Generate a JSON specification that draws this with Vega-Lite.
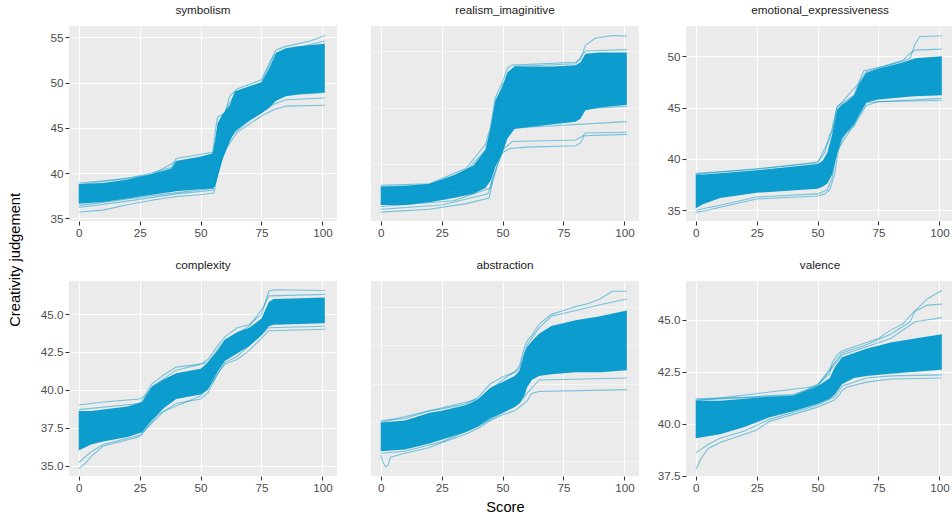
{
"$schema": "https://vega.github.io/schema/vega-lite/v6.json",
"background": "white",
"padding": {"left": 8, "top": 5, "right": 0, "bottom": 0},
"title": {"text": "Creativity judgement", "orient": "left", "anchor": "middle", "frame": "bounds", "fontSize": 14.7, "fontWeight": "normal", "font": "Liberation Sans", "color": "#000000", "offset": -7, "baseline": "bottom"},
"datasets": {
"band": [
{"p":"sym","x":0,"lo":36.6,"hi":38.8},{"p":"sym","x":10,"lo":36.8,"hi":38.9},{"p":"sym","x":20,"lo":37.2,"hi":39.3},{"p":"sym","x":30,"lo":37.6,"hi":39.9},{"p":"sym","x":38,"lo":37.9,"hi":40.5},{"p":"sym","x":40,"lo":38.0,"hi":41.3},{"p":"sym","x":50,"lo":38.2,"hi":41.8},{"p":"sym","x":55,"lo":38.3,"hi":42.2},{"p":"sym","x":56,"lo":38.6,"hi":43.5},{"p":"sym","x":57,"lo":39.5,"hi":45.5},{"p":"sym","x":59,"lo":41.5,"hi":46.5},{"p":"sym","x":62,"lo":43.5,"hi":47.5},{"p":"sym","x":64,"lo":44.6,"hi":49.0},{"p":"sym","x":70,"lo":45.8,"hi":49.6},{"p":"sym","x":75,"lo":46.6,"hi":50.0},{"p":"sym","x":78,"lo":47.2,"hi":51.5},{"p":"sym","x":81,"lo":48.0,"hi":53.3},{"p":"sym","x":85,"lo":48.5,"hi":53.8},{"p":"sym","x":90,"lo":48.7,"hi":54.0},{"p":"sym","x":101,"lo":48.9,"hi":54.3},
{"p":"rea","x":0,"lo":39.1,"hi":40.4},{"p":"rea","x":10,"lo":39.1,"hi":40.45},{"p":"rea","x":20,"lo":39.3,"hi":40.6},{"p":"rea","x":30,"lo":39.6,"hi":41.2},{"p":"rea","x":38,"lo":39.9,"hi":41.9},{"p":"rea","x":43,"lo":40.3,"hi":43.0},{"p":"rea","x":45,"lo":40.8,"hi":44.5},{"p":"rea","x":47,"lo":41.8,"hi":46.5},{"p":"rea","x":50,"lo":42.8,"hi":47.5},{"p":"rea","x":52,"lo":43.8,"hi":48.5},{"p":"rea","x":55,"lo":44.5,"hi":48.9},{"p":"rea","x":70,"lo":44.8,"hi":48.9},{"p":"rea","x":80,"lo":45.0,"hi":49.0},{"p":"rea","x":82,"lo":45.2,"hi":49.2},{"p":"rea","x":84,"lo":45.8,"hi":49.8},{"p":"rea","x":90,"lo":46.0,"hi":49.9},{"p":"rea","x":101,"lo":46.2,"hi":49.9},
{"p":"emo","x":0,"lo":35.2,"hi":38.5},{"p":"emo","x":3,"lo":35.6,"hi":38.5},{"p":"emo","x":10,"lo":36.2,"hi":38.6},{"p":"emo","x":25,"lo":36.7,"hi":38.9},{"p":"emo","x":50,"lo":37.1,"hi":39.5},{"p":"emo","x":52,"lo":37.3,"hi":39.8},{"p":"emo","x":54,"lo":37.6,"hi":40.6},{"p":"emo","x":56,"lo":38.5,"hi":42.4},{"p":"emo","x":58,"lo":40.5,"hi":44.8},{"p":"emo","x":60,"lo":42.0,"hi":45.3},{"p":"emo","x":62,"lo":42.6,"hi":45.6},{"p":"emo","x":65,"lo":43.4,"hi":46.2},{"p":"emo","x":67,"lo":44.3,"hi":47.3},{"p":"emo","x":70,"lo":45.5,"hi":48.4},{"p":"emo","x":75,"lo":45.8,"hi":48.8},{"p":"emo","x":85,"lo":46.0,"hi":49.4},{"p":"emo","x":90,"lo":46.1,"hi":49.8},{"p":"emo","x":101,"lo":46.2,"hi":50.0},
{"p":"com","x":0,"lo":36.0,"hi":38.6},{"p":"com","x":5,"lo":36.4,"hi":38.6},{"p":"com","x":10,"lo":36.6,"hi":38.7},{"p":"com","x":20,"lo":36.9,"hi":38.9},{"p":"com","x":26,"lo":37.2,"hi":39.2},{"p":"com","x":30,"lo":38.0,"hi":40.2},{"p":"com","x":35,"lo":38.8,"hi":40.7},{"p":"com","x":40,"lo":39.4,"hi":41.1},{"p":"com","x":50,"lo":39.7,"hi":41.4},{"p":"com","x":53,"lo":40.0,"hi":41.8},{"p":"com","x":57,"lo":41.2,"hi":42.6},{"p":"com","x":60,"lo":41.9,"hi":43.3},{"p":"com","x":65,"lo":42.4,"hi":43.8},{"p":"com","x":70,"lo":42.9,"hi":44.1},{"p":"com","x":75,"lo":43.6,"hi":44.7},{"p":"com","x":78,"lo":44.2,"hi":45.8},{"p":"com","x":80,"lo":44.3,"hi":46.0},{"p":"com","x":101,"lo":44.4,"hi":46.1},
{"p":"abs","x":0,"lo":39.5,"hi":41.0},{"p":"abs","x":10,"lo":39.6,"hi":41.1},{"p":"abs","x":20,"lo":39.9,"hi":41.5},{"p":"abs","x":25,"lo":40.1,"hi":41.6},{"p":"abs","x":35,"lo":40.5,"hi":41.9},{"p":"abs","x":40,"lo":40.8,"hi":42.2},{"p":"abs","x":45,"lo":41.2,"hi":42.8},{"p":"abs","x":50,"lo":41.5,"hi":43.1},{"p":"abs","x":55,"lo":41.8,"hi":43.4},{"p":"abs","x":57,"lo":42.0,"hi":43.7},{"p":"abs","x":59,"lo":42.4,"hi":44.6},{"p":"abs","x":60,"lo":42.8,"hi":44.9},{"p":"abs","x":62,"lo":43.2,"hi":45.2},{"p":"abs","x":65,"lo":43.4,"hi":45.6},{"p":"abs","x":70,"lo":43.5,"hi":46.0},{"p":"abs","x":80,"lo":43.6,"hi":46.3},{"p":"abs","x":90,"lo":43.6,"hi":46.5},{"p":"abs","x":101,"lo":43.7,"hi":46.8},
{"p":"val","x":0,"lo":39.3,"hi":41.1},{"p":"val","x":10,"lo":39.5,"hi":41.1},{"p":"val","x":20,"lo":39.85,"hi":41.2},{"p":"val","x":30,"lo":40.3,"hi":41.3},{"p":"val","x":40,"lo":40.6,"hi":41.35},{"p":"val","x":50,"lo":40.95,"hi":41.8},{"p":"val","x":55,"lo":41.2,"hi":42.2},{"p":"val","x":57,"lo":41.4,"hi":42.7},{"p":"val","x":60,"lo":41.9,"hi":43.2},{"p":"val","x":65,"lo":42.2,"hi":43.4},{"p":"val","x":70,"lo":42.3,"hi":43.6},{"p":"val","x":80,"lo":42.4,"hi":43.9},{"p":"val","x":90,"lo":42.5,"hi":44.1},{"p":"val","x":101,"lo":42.6,"hi":44.3}
],
"lines": [
{"p":"sym","id":1,"x":0,"y":35.7},{"p":"sym","id":1,"x":10,"y":35.9},{"p":"sym","id":1,"x":20,"y":36.5},{"p":"sym","id":1,"x":30,"y":37.0},{"p":"sym","id":1,"x":40,"y":37.4},{"p":"sym","id":1,"x":50,"y":37.6},{"p":"sym","id":1,"x":55.5,"y":37.8},{"p":"sym","id":1,"x":57,"y":40.0},{"p":"sym","id":1,"x":60,"y":42.5},{"p":"sym","id":1,"x":63,"y":43.7},{"p":"sym","id":1,"x":65,"y":44.5},{"p":"sym","id":1,"x":75,"y":46.3},{"p":"sym","id":1,"x":80,"y":47.0},{"p":"sym","id":1,"x":85,"y":47.4},{"p":"sym","id":1,"x":101,"y":47.5},
{"p":"sym","id":2,"x":0,"y":36.2},{"p":"sym","id":2,"x":20,"y":36.9},{"p":"sym","id":2,"x":40,"y":37.7},{"p":"sym","id":2,"x":55,"y":38.1},{"p":"sym","id":2,"x":57,"y":40.5},{"p":"sym","id":2,"x":62,"y":44.0},{"p":"sym","id":2,"x":70,"y":45.8},{"p":"sym","id":2,"x":80,"y":47.6},{"p":"sym","id":2,"x":85,"y":48.1},{"p":"sym","id":2,"x":101,"y":48.3},
{"p":"sym","id":3,"x":0,"y":36.4},{"p":"sym","id":3,"x":30,"y":37.5},{"p":"sym","id":3,"x":55,"y":38.3},{"p":"sym","id":3,"x":58,"y":42.0},{"p":"sym","id":3,"x":65,"y":45.0},{"p":"sym","id":3,"x":80,"y":48.2},{"p":"sym","id":3,"x":85,"y":48.6},{"p":"sym","id":3,"x":101,"y":48.9},
{"p":"sym","id":4,"x":0,"y":38.9},{"p":"sym","id":4,"x":20,"y":39.4},{"p":"sym","id":4,"x":30,"y":40.0},{"p":"sym","id":4,"x":38,"y":40.6},{"p":"sym","id":4,"x":40,"y":41.6},{"p":"sym","id":4,"x":55,"y":42.3},{"p":"sym","id":4,"x":56.5,"y":45.5},{"p":"sym","id":4,"x":57,"y":46.2},{"p":"sym","id":4,"x":60,"y":46.6},{"p":"sym","id":4,"x":62,"y":48.5},{"p":"sym","id":4,"x":65,"y":49.3},{"p":"sym","id":4,"x":75,"y":50.3},{"p":"sym","id":4,"x":78,"y":52.0},{"p":"sym","id":4,"x":81,"y":53.6},{"p":"sym","id":4,"x":85,"y":54.0},{"p":"sym","id":4,"x":95,"y":54.6},{"p":"sym","id":4,"x":101,"y":55.2},
{"p":"sym","id":5,"x":0,"y":38.7},{"p":"sym","id":5,"x":30,"y":39.8},{"p":"sym","id":5,"x":40,"y":41.3},{"p":"sym","id":5,"x":55,"y":42.0},{"p":"sym","id":5,"x":57,"y":45.0},{"p":"sym","id":5,"x":62,"y":47.8},{"p":"sym","id":5,"x":65,"y":49.0},{"p":"sym","id":5,"x":75,"y":50.0},{"p":"sym","id":5,"x":80,"y":53.0},{"p":"sym","id":5,"x":85,"y":53.5},{"p":"sym","id":5,"x":101,"y":54.6},
{"p":"rea","id":1,"x":0,"y":38.6},{"p":"rea","id":1,"x":20,"y":38.8},{"p":"rea","id":1,"x":35,"y":39.2},{"p":"rea","id":1,"x":44.5,"y":39.6},{"p":"rea","id":1,"x":46,"y":40.8},{"p":"rea","id":1,"x":48,"y":42.0},{"p":"rea","id":1,"x":50,"y":42.8},{"p":"rea","id":1,"x":53,"y":43.1},{"p":"rea","id":1,"x":60,"y":43.2},{"p":"rea","id":1,"x":80,"y":43.3},{"p":"rea","id":1,"x":82,"y":43.5},{"p":"rea","id":1,"x":83.5,"y":44.0},{"p":"rea","id":1,"x":101,"y":44.1},
{"p":"rea","id":2,"x":0,"y":38.8},{"p":"rea","id":2,"x":25,"y":39.1},{"p":"rea","id":2,"x":44,"y":39.9},{"p":"rea","id":2,"x":47,"y":41.5},{"p":"rea","id":2,"x":50,"y":43.0},{"p":"rea","id":2,"x":54,"y":43.6},{"p":"rea","id":2,"x":80,"y":43.7},{"p":"rea","id":2,"x":83,"y":44.0},{"p":"rea","id":2,"x":84,"y":44.2},{"p":"rea","id":2,"x":101,"y":44.25},
{"p":"rea","id":3,"x":0,"y":39.0},{"p":"rea","id":3,"x":30,"y":39.4},{"p":"rea","id":3,"x":45,"y":40.3},{"p":"rea","id":3,"x":48,"y":43.0},{"p":"rea","id":3,"x":52,"y":44.5},{"p":"rea","id":3,"x":60,"y":44.6},{"p":"rea","id":3,"x":101,"y":45.0},
{"p":"rea","id":4,"x":0,"y":39.2},{"p":"rea","id":4,"x":45,"y":40.9},{"p":"rea","id":4,"x":50,"y":44.0},{"p":"rea","id":4,"x":55,"y":45.3},{"p":"rea","id":4,"x":80,"y":45.5},{"p":"rea","id":4,"x":83,"y":45.9},{"p":"rea","id":4,"x":101,"y":46.1},
{"p":"rea","id":5,"x":0,"y":40.5},{"p":"rea","id":5,"x":20,"y":40.6},{"p":"rea","id":5,"x":35,"y":41.7},{"p":"rea","id":5,"x":43,"y":43.4},{"p":"rea","id":5,"x":45,"y":44.6},{"p":"rea","id":5,"x":47,"y":46.7},{"p":"rea","id":5,"x":50,"y":47.8},{"p":"rea","id":5,"x":52,"y":48.8},{"p":"rea","id":5,"x":54,"y":49.0},{"p":"rea","id":5,"x":80,"y":49.2},{"p":"rea","id":5,"x":82,"y":49.4},{"p":"rea","id":5,"x":84,"y":50.4},{"p":"rea","id":5,"x":88,"y":50.9},{"p":"rea","id":5,"x":95,"y":51.1},{"p":"rea","id":5,"x":101,"y":51.05},
{"p":"rea","id":6,"x":0,"y":40.4},{"p":"rea","id":6,"x":20,"y":40.5},{"p":"rea","id":6,"x":35,"y":41.5},{"p":"rea","id":6,"x":43,"y":43.0},{"p":"rea","id":6,"x":45,"y":44.3},{"p":"rea","id":6,"x":50,"y":47.6},{"p":"rea","id":6,"x":55,"y":48.9},{"p":"rea","id":6,"x":80,"y":49.1},{"p":"rea","id":6,"x":84,"y":50.0},{"p":"rea","id":6,"x":101,"y":50.1},
{"p":"emo","id":1,"x":0,"y":34.8},{"p":"emo","id":1,"x":5,"y":35.0},{"p":"emo","id":1,"x":10,"y":35.3},{"p":"emo","id":1,"x":25,"y":36.1},{"p":"emo","id":1,"x":50,"y":36.4},{"p":"emo","id":1,"x":53,"y":36.6},{"p":"emo","id":1,"x":55,"y":37.0},{"p":"emo","id":1,"x":57,"y":38.5},{"p":"emo","id":1,"x":58.5,"y":40.8},{"p":"emo","id":1,"x":60,"y":41.9},{"p":"emo","id":1,"x":62,"y":42.6},{"p":"emo","id":1,"x":65,"y":43.2},{"p":"emo","id":1,"x":67,"y":44.1},{"p":"emo","id":1,"x":70,"y":45.2},{"p":"emo","id":1,"x":75,"y":45.6},{"p":"emo","id":1,"x":101,"y":45.7},
{"p":"emo","id":2,"x":0,"y":35.0},{"p":"emo","id":2,"x":10,"y":35.5},{"p":"emo","id":2,"x":25,"y":36.3},{"p":"emo","id":2,"x":50,"y":36.6},{"p":"emo","id":2,"x":54,"y":37.0},{"p":"emo","id":2,"x":56,"y":38.2},{"p":"emo","id":2,"x":58,"y":40.8},{"p":"emo","id":2,"x":65,"y":43.4},{"p":"emo","id":2,"x":70,"y":45.5},{"p":"emo","id":2,"x":101,"y":45.9},
{"p":"emo","id":3,"x":0,"y":38.6},{"p":"emo","id":3,"x":25,"y":39.0},{"p":"emo","id":3,"x":50,"y":39.7},{"p":"emo","id":3,"x":53,"y":40.6},{"p":"emo","id":3,"x":55,"y":42.4},{"p":"emo","id":3,"x":56,"y":42.6},{"p":"emo","id":3,"x":58,"y":45.1},{"p":"emo","id":3,"x":65,"y":46.2},{"p":"emo","id":3,"x":67,"y":47.5},{"p":"emo","id":3,"x":69,"y":48.6},{"p":"emo","id":3,"x":75,"y":48.9},{"p":"emo","id":3,"x":85,"y":49.5},{"p":"emo","id":3,"x":88,"y":49.8},{"p":"emo","id":3,"x":90,"y":51.2},{"p":"emo","id":3,"x":92,"y":51.9},{"p":"emo","id":3,"x":101,"y":52.0},
{"p":"emo","id":4,"x":0,"y":38.5},{"p":"emo","id":4,"x":50,"y":39.6},{"p":"emo","id":4,"x":55,"y":42.0},{"p":"emo","id":4,"x":58,"y":45.0},{"p":"emo","id":4,"x":67,"y":47.4},{"p":"emo","id":4,"x":70,"y":48.5},{"p":"emo","id":4,"x":85,"y":49.6},{"p":"emo","id":4,"x":88,"y":50.3},{"p":"emo","id":4,"x":90,"y":50.6},{"p":"emo","id":4,"x":101,"y":50.7},
{"p":"com","id":1,"x":0,"y":34.8},{"p":"com","id":1,"x":3,"y":35.2},{"p":"com","id":1,"x":5,"y":35.6},{"p":"com","id":1,"x":10,"y":36.3},{"p":"com","id":1,"x":25,"y":36.9},{"p":"com","id":1,"x":28,"y":37.5},{"p":"com","id":1,"x":32,"y":38.3},{"p":"com","id":1,"x":40,"y":39.1},{"p":"com","id":1,"x":50,"y":39.4},{"p":"com","id":1,"x":53,"y":39.8},{"p":"com","id":1,"x":57,"y":41.1},{"p":"com","id":1,"x":60,"y":41.7},{"p":"com","id":1,"x":65,"y":42.0},{"p":"com","id":1,"x":70,"y":42.6},{"p":"com","id":1,"x":75,"y":43.4},{"p":"com","id":1,"x":78,"y":43.9},{"p":"com","id":1,"x":101,"y":44.0},
{"p":"com","id":2,"x":0,"y":35.2},{"p":"com","id":2,"x":5,"y":35.9},{"p":"com","id":2,"x":10,"y":36.4},{"p":"com","id":2,"x":25,"y":37.0},{"p":"com","id":2,"x":30,"y":37.8},{"p":"com","id":2,"x":35,"y":38.6},{"p":"com","id":2,"x":50,"y":39.6},{"p":"com","id":2,"x":55,"y":40.5},{"p":"com","id":2,"x":60,"y":41.8},{"p":"com","id":2,"x":65,"y":42.2},{"p":"com","id":2,"x":78,"y":44.1},{"p":"com","id":2,"x":101,"y":44.2},
{"p":"com","id":3,"x":0,"y":39.0},{"p":"com","id":3,"x":10,"y":39.2},{"p":"com","id":3,"x":25,"y":39.4},{"p":"com","id":3,"x":27,"y":39.6},{"p":"com","id":3,"x":30,"y":40.4},{"p":"com","id":3,"x":35,"y":41.0},{"p":"com","id":3,"x":40,"y":41.5},{"p":"com","id":3,"x":50,"y":41.7},{"p":"com","id":3,"x":53,"y":42.0},{"p":"com","id":3,"x":57,"y":42.9},{"p":"com","id":3,"x":60,"y":43.5},{"p":"com","id":3,"x":65,"y":44.1},{"p":"com","id":3,"x":70,"y":44.3},{"p":"com","id":3,"x":75,"y":45.0},{"p":"com","id":3,"x":78,"y":46.5},{"p":"com","id":3,"x":80,"y":46.6},{"p":"com","id":3,"x":101,"y":46.55},
{"p":"com","id":4,"x":0,"y":38.7},{"p":"com","id":4,"x":25,"y":39.1},{"p":"com","id":4,"x":30,"y":40.2},{"p":"com","id":4,"x":40,"y":41.3},{"p":"com","id":4,"x":53,"y":41.8},{"p":"com","id":4,"x":60,"y":43.3},{"p":"com","id":4,"x":70,"y":44.2},{"p":"com","id":4,"x":76,"y":45.5},{"p":"com","id":4,"x":78,"y":46.2},{"p":"com","id":4,"x":101,"y":46.3},
{"p":"abs","id":1,"x":0,"y":39.3},{"p":"abs","id":1,"x":1,"y":38.9},{"p":"abs","id":1,"x":2,"y":38.7},{"p":"abs","id":1,"x":3,"y":38.8},{"p":"abs","id":1,"x":4,"y":39.2},{"p":"abs","id":1,"x":10,"y":39.4},{"p":"abs","id":1,"x":20,"y":39.7},{"p":"abs","id":1,"x":25,"y":39.95},{"p":"abs","id":1,"x":35,"y":40.4},{"p":"abs","id":1,"x":40,"y":40.7},{"p":"abs","id":1,"x":45,"y":41.1},{"p":"abs","id":1,"x":50,"y":41.4},{"p":"abs","id":1,"x":55,"y":41.6},{"p":"abs","id":1,"x":57,"y":41.8},{"p":"abs","id":1,"x":60,"y":42.1},{"p":"abs","id":1,"x":62,"y":42.5},{"p":"abs","id":1,"x":65,"y":42.6},{"p":"abs","id":1,"x":101,"y":42.7},
{"p":"abs","id":2,"x":0,"y":39.4},{"p":"abs","id":2,"x":10,"y":39.5},{"p":"abs","id":2,"x":25,"y":40.0},{"p":"abs","id":2,"x":40,"y":40.8},{"p":"abs","id":2,"x":50,"y":41.5},{"p":"abs","id":2,"x":57,"y":42.0},{"p":"abs","id":2,"x":60,"y":42.5},{"p":"abs","id":2,"x":65,"y":43.2},{"p":"abs","id":2,"x":101,"y":43.3},
{"p":"abs","id":3,"x":0,"y":41.1},{"p":"abs","id":3,"x":10,"y":41.2},{"p":"abs","id":3,"x":20,"y":41.6},{"p":"abs","id":3,"x":25,"y":41.7},{"p":"abs","id":3,"x":35,"y":41.95},{"p":"abs","id":3,"x":40,"y":42.3},{"p":"abs","id":3,"x":45,"y":43.0},{"p":"abs","id":3,"x":50,"y":43.35},{"p":"abs","id":3,"x":55,"y":43.6},{"p":"abs","id":3,"x":57,"y":43.95},{"p":"abs","id":3,"x":59,"y":44.9},{"p":"abs","id":3,"x":60,"y":45.2},{"p":"abs","id":3,"x":62,"y":45.5},{"p":"abs","id":3,"x":65,"y":46.1},{"p":"abs","id":3,"x":70,"y":46.6},{"p":"abs","id":3,"x":75,"y":46.8},{"p":"abs","id":3,"x":80,"y":47.0},{"p":"abs","id":3,"x":85,"y":47.15},{"p":"abs","id":3,"x":90,"y":47.4},{"p":"abs","id":3,"x":95,"y":47.8},{"p":"abs","id":3,"x":101,"y":47.8},
{"p":"abs","id":4,"x":0,"y":41.0},{"p":"abs","id":4,"x":40,"y":42.2},{"p":"abs","id":4,"x":50,"y":43.2},{"p":"abs","id":4,"x":57,"y":43.8},{"p":"abs","id":4,"x":60,"y":45.0},{"p":"abs","id":4,"x":65,"y":45.9},{"p":"abs","id":4,"x":70,"y":46.5},{"p":"abs","id":4,"x":80,"y":46.8},{"p":"abs","id":4,"x":90,"y":47.1},{"p":"abs","id":4,"x":101,"y":47.4},
{"p":"val","id":1,"x":0,"y":37.8},{"p":"val","id":1,"x":1,"y":38.0},{"p":"val","id":1,"x":2,"y":38.3},{"p":"val","id":1,"x":5,"y":38.8},{"p":"val","id":1,"x":10,"y":39.1},{"p":"val","id":1,"x":20,"y":39.5},{"p":"val","id":1,"x":25,"y":39.7},{"p":"val","id":1,"x":30,"y":40.1},{"p":"val","id":1,"x":40,"y":40.45},{"p":"val","id":1,"x":50,"y":40.8},{"p":"val","id":1,"x":55,"y":41.05},{"p":"val","id":1,"x":57,"y":41.15},{"p":"val","id":1,"x":59,"y":41.4},{"p":"val","id":1,"x":60,"y":41.6},{"p":"val","id":1,"x":62,"y":41.75},{"p":"val","id":1,"x":65,"y":41.85},{"p":"val","id":1,"x":70,"y":42.0},{"p":"val","id":1,"x":80,"y":42.15},{"p":"val","id":1,"x":101,"y":42.2},
{"p":"val","id":2,"x":0,"y":38.6},{"p":"val","id":2,"x":5,"y":39.0},{"p":"val","id":2,"x":10,"y":39.3},{"p":"val","id":2,"x":20,"y":39.65},{"p":"val","id":2,"x":30,"y":40.2},{"p":"val","id":2,"x":50,"y":40.9},{"p":"val","id":2,"x":57,"y":41.3},{"p":"val","id":2,"x":60,"y":41.8},{"p":"val","id":2,"x":70,"y":42.2},{"p":"val","id":2,"x":80,"y":42.3},{"p":"val","id":2,"x":101,"y":42.35},
{"p":"val","id":3,"x":0,"y":41.2},{"p":"val","id":3,"x":20,"y":41.27},{"p":"val","id":3,"x":30,"y":41.35},{"p":"val","id":3,"x":40,"y":41.4},{"p":"val","id":3,"x":45,"y":41.6},{"p":"val","id":3,"x":50,"y":41.9},{"p":"val","id":3,"x":55,"y":42.4},{"p":"val","id":3,"x":56,"y":42.95},{"p":"val","id":3,"x":58,"y":43.3},{"p":"val","id":3,"x":60,"y":43.5},{"p":"val","id":3,"x":65,"y":43.7},{"p":"val","id":3,"x":70,"y":43.9},{"p":"val","id":3,"x":75,"y":44.1},{"p":"val","id":3,"x":80,"y":44.5},{"p":"val","id":3,"x":85,"y":44.8},{"p":"val","id":3,"x":88,"y":45.2},{"p":"val","id":3,"x":95,"y":46.0},{"p":"val","id":3,"x":101,"y":46.4},
{"p":"val","id":4,"x":0,"y":41.15},{"p":"val","id":4,"x":40,"y":41.35},{"p":"val","id":4,"x":50,"y":41.85},{"p":"val","id":4,"x":56,"y":42.8},{"p":"val","id":4,"x":60,"y":43.4},{"p":"val","id":4,"x":70,"y":43.8},{"p":"val","id":4,"x":80,"y":44.3},{"p":"val","id":4,"x":88,"y":44.9},{"p":"val","id":4,"x":90,"y":45.4},{"p":"val","id":4,"x":95,"y":45.7},{"p":"val","id":4,"x":101,"y":45.75},
{"p":"val","id":5,"x":0,"y":41.1},{"p":"val","id":5,"x":50,"y":41.8},{"p":"val","id":5,"x":60,"y":43.3},{"p":"val","id":5,"x":80,"y":44.1},{"p":"val","id":5,"x":90,"y":44.9},{"p":"val","id":5,"x":101,"y":45.1}
]
},
"columns": 3,
"align": "each",
"bounds": "full",
"spacing": {"column": 10, "row": 21},
"concat": [
{"width": 268, "height": 195, "title": {"text": "symbolism"},
 "layer": [
  {"data": {"name": "band"}, "transform": [{"filter": "datum.p === 'sym'"}], "mark": {"type": "area", "color": "#0099CC", "opacity": 0.95, "clip": true},
   "encoding": {"x": {"field": "x", "type": "quantitative", "title": null, "scale": {"domain": [-4, 106], "nice": false, "zero": false}, "axis": {"values": [0,12.5,25,37.5,50,62.5,75,87.5,100], "labelExpr": "datum.value % 25 === 0 ? datum.label : ''", "gridWidth": {"condition": {"test": "datum.value % 25 === 0", "value": 1.1}, "value": 0.55}, "tickColor": {"condition": {"test": "datum.value % 25 === 0", "value": "#333333"}, "value": "rgba(0,0,0,0)"}}},
    "y": {"field": "lo", "type": "quantitative", "title": null, "scale": {"domain": [34.7, 56.25], "nice": false, "zero": false}, "axis": {"values": [35,37.5,40,42.5,45,47.5,50,52.5,55], "labelExpr": "datum.value % 5 === 0 ? datum.label : ''", "gridWidth": {"condition": {"test": "datum.value % 5 === 0", "value": 1.1}, "value": 0.55}, "tickColor": {"condition": {"test": "datum.value % 5 === 0", "value": "#333333"}, "value": "rgba(0,0,0,0)"}, "minExtent": 38, "maxExtent": 38}},
    "y2": {"field": "hi"}}},
  {"data": {"name": "lines"}, "transform": [{"filter": "datum.p === 'sym'"}], "mark": {"type": "line", "color": "#0099CC", "opacity": 0.5, "strokeWidth": 1.1, "clip": true},
   "encoding": {"x": {"field": "x", "type": "quantitative", "title": null}, "y": {"field": "y", "type": "quantitative", "title": null}, "detail": {"field": "id", "type": "nominal"}}}
 ]},
{"width": 268, "height": 195, "title": {"text": "realism_imaginitive"},
 "layer": [
  {"data": {"name": "band"}, "transform": [{"filter": "datum.p === 'rea'"}], "mark": {"type": "area", "color": "#0099CC", "opacity": 0.95, "clip": true},
   "encoding": {"x": {"field": "x", "type": "quantitative", "title": null, "scale": {"domain": [-4, 106], "nice": false, "zero": false}, "axis": {"values": [0,12.5,25,37.5,50,62.5,75,87.5,100], "labelExpr": "datum.value % 25 === 0 ? datum.label : ''", "gridWidth": {"condition": {"test": "datum.value % 25 === 0", "value": 1.1}, "value": 0.55}, "tickColor": {"condition": {"test": "datum.value % 25 === 0", "value": "#333333"}, "value": "rgba(0,0,0,0)"}}},
    "y": {"field": "lo", "type": "quantitative", "title": null, "scale": {"domain": [37.97, 51.77], "nice": false, "zero": false}, "axis": {"values": [38,40,42,44,46,48,50], "labelExpr": "datum.value % 4 === 0 ? datum.label : ''", "gridWidth": {"condition": {"test": "datum.value % 4 === 0", "value": 1.1}, "value": 0.55}, "tickColor": {"condition": {"test": "datum.value % 4 === 0", "value": "#333333"}, "value": "rgba(0,0,0,0)"}, "minExtent": 24, "maxExtent": 24}},
    "y2": {"field": "hi"}}},
  {"data": {"name": "lines"}, "transform": [{"filter": "datum.p === 'rea'"}], "mark": {"type": "line", "color": "#0099CC", "opacity": 0.5, "strokeWidth": 1.1, "clip": true},
   "encoding": {"x": {"field": "x", "type": "quantitative", "title": null}, "y": {"field": "y", "type": "quantitative", "title": null}, "detail": {"field": "id", "type": "nominal"}}}
 ]},
{"width": 268, "height": 195, "title": {"text": "emotional_expressiveness"},
 "layer": [
  {"data": {"name": "band"}, "transform": [{"filter": "datum.p === 'emo'"}], "mark": {"type": "area", "color": "#0099CC", "opacity": 0.95, "clip": true},
   "encoding": {"x": {"field": "x", "type": "quantitative", "title": null, "scale": {"domain": [-4, 106], "nice": false, "zero": false}, "axis": {"values": [0,12.5,25,37.5,50,62.5,75,87.5,100], "labelExpr": "datum.value % 25 === 0 ? datum.label : ''", "gridWidth": {"condition": {"test": "datum.value % 25 === 0", "value": 1.1}, "value": 0.55}, "tickColor": {"condition": {"test": "datum.value % 25 === 0", "value": "#333333"}, "value": "rgba(0,0,0,0)"}}},
    "y": {"field": "lo", "type": "quantitative", "title": null, "scale": {"domain": [33.96, 52.95], "nice": false, "zero": false}, "axis": {"values": [35,37.5,40,42.5,45,47.5,50,52.5], "labelExpr": "datum.value % 5 === 0 ? datum.label : ''", "gridWidth": {"condition": {"test": "datum.value % 5 === 0", "value": 1.1}, "value": 0.55}, "tickColor": {"condition": {"test": "datum.value % 5 === 0", "value": "#333333"}, "value": "rgba(0,0,0,0)"}, "minExtent": 37, "maxExtent": 37}},
    "y2": {"field": "hi"}}},
  {"data": {"name": "lines"}, "transform": [{"filter": "datum.p === 'emo'"}], "mark": {"type": "line", "color": "#0099CC", "opacity": 0.5, "strokeWidth": 1.1, "clip": true},
   "encoding": {"x": {"field": "x", "type": "quantitative", "title": null}, "y": {"field": "y", "type": "quantitative", "title": null}, "detail": {"field": "id", "type": "nominal"}}}
 ]},
{"width": 268, "height": 195, "title": {"text": "complexity"},
 "layer": [
  {"data": {"name": "band"}, "transform": [{"filter": "datum.p === 'com'"}], "mark": {"type": "area", "color": "#0099CC", "opacity": 0.95, "clip": true},
   "encoding": {"x": {"field": "x", "type": "quantitative", "title": null, "scale": {"domain": [-4, 106], "nice": false, "zero": false}, "axis": {"values": [0,12.5,25,37.5,50,62.5,75,87.5,100], "labelExpr": "datum.value % 25 === 0 ? datum.label : ''", "gridWidth": {"condition": {"test": "datum.value % 25 === 0", "value": 1.1}, "value": 0.55}, "tickColor": {"condition": {"test": "datum.value % 25 === 0", "value": "#333333"}, "value": "rgba(0,0,0,0)"}}},
    "y": {"field": "lo", "type": "quantitative", "title": null, "scale": {"domain": [34.32, 47.18], "nice": false, "zero": false}, "axis": {"values": [35,36.25,37.5,38.75,40,41.25,42.5,43.75,45,46.25], "format": ".1f", "labelExpr": "datum.value % 2.5 === 0 ? datum.label : ''", "gridWidth": {"condition": {"test": "datum.value % 2.5 === 0", "value": 1.1}, "value": 0.55}, "tickColor": {"condition": {"test": "datum.value % 2.5 === 0", "value": "#333333"}, "value": "rgba(0,0,0,0)"}, "minExtent": 38, "maxExtent": 38}},
    "y2": {"field": "hi"}}},
  {"data": {"name": "lines"}, "transform": [{"filter": "datum.p === 'com'"}], "mark": {"type": "line", "color": "#0099CC", "opacity": 0.5, "strokeWidth": 1.1, "clip": true},
   "encoding": {"x": {"field": "x", "type": "quantitative", "title": null}, "y": {"field": "y", "type": "quantitative", "title": null}, "detail": {"field": "id", "type": "nominal"}}}
 ]},
{"width": 268, "height": 195, "title": {"text": "abstraction"},
 "layer": [
  {"data": {"name": "band"}, "transform": [{"filter": "datum.p === 'abs'"}], "mark": {"type": "area", "color": "#0099CC", "opacity": 0.95, "clip": true},
   "encoding": {"x": {"field": "x", "type": "quantitative", "title": "Score", "scale": {"domain": [-4, 106], "nice": false, "zero": false}, "axis": {"values": [0,12.5,25,37.5,50,62.5,75,87.5,100], "labelExpr": "datum.value % 25 === 0 ? datum.label : ''", "gridWidth": {"condition": {"test": "datum.value % 25 === 0", "value": 1.1}, "value": 0.55}, "tickColor": {"condition": {"test": "datum.value % 25 === 0", "value": "#333333"}, "value": "rgba(0,0,0,0)"}, "titlePadding": 6}},
    "y": {"field": "lo", "type": "quantitative", "title": null, "scale": {"domain": [38.22, 48.33], "nice": false, "zero": false}, "axis": {"values": [39,40,41,42,43,44,45,46,47,48], "labelExpr": "datum.value % 2 === 0 ? datum.label : ''", "gridWidth": {"condition": {"test": "datum.value % 2 === 0", "value": 1.1}, "value": 0.55}, "tickColor": {"condition": {"test": "datum.value % 2 === 0", "value": "#333333"}, "value": "rgba(0,0,0,0)"}, "minExtent": 24, "maxExtent": 24}},
    "y2": {"field": "hi"}}},
  {"data": {"name": "lines"}, "transform": [{"filter": "datum.p === 'abs'"}], "mark": {"type": "line", "color": "#0099CC", "opacity": 0.5, "strokeWidth": 1.1, "clip": true},
   "encoding": {"x": {"field": "x", "type": "quantitative", "title": "Score"}, "y": {"field": "y", "type": "quantitative", "title": null}, "detail": {"field": "id", "type": "nominal"}}}
 ]},
{"width": 268, "height": 195, "title": {"text": "valence"},
 "layer": [
  {"data": {"name": "band"}, "transform": [{"filter": "datum.p === 'val'"}], "mark": {"type": "area", "color": "#0099CC", "opacity": 0.95, "clip": true},
   "encoding": {"x": {"field": "x", "type": "quantitative", "title": null, "scale": {"domain": [-4, 106], "nice": false, "zero": false}, "axis": {"values": [0,12.5,25,37.5,50,62.5,75,87.5,100], "labelExpr": "datum.value % 25 === 0 ? datum.label : ''", "gridWidth": {"condition": {"test": "datum.value % 25 === 0", "value": 1.1}, "value": 0.55}, "tickColor": {"condition": {"test": "datum.value % 25 === 0", "value": "#333333"}, "value": "rgba(0,0,0,0)"}}},
    "y": {"field": "lo", "type": "quantitative", "title": null, "scale": {"domain": [37.49, 46.86], "nice": false, "zero": false}, "axis": {"values": [37.5,38.75,40,41.25,42.5,43.75,45,46.25], "format": ".1f", "labelExpr": "datum.value % 2.5 === 0 ? datum.label : ''", "gridWidth": {"condition": {"test": "datum.value % 2.5 === 0", "value": 1.1}, "value": 0.55}, "tickColor": {"condition": {"test": "datum.value % 2.5 === 0", "value": "#333333"}, "value": "rgba(0,0,0,0)"}, "minExtent": 37, "maxExtent": 37}},
    "y2": {"field": "hi"}}},
  {"data": {"name": "lines"}, "transform": [{"filter": "datum.p === 'val'"}], "mark": {"type": "line", "color": "#0099CC", "opacity": 0.5, "strokeWidth": 1.1, "clip": true},
   "encoding": {"x": {"field": "x", "type": "quantitative", "title": null}, "y": {"field": "y", "type": "quantitative", "title": null}, "detail": {"field": "id", "type": "nominal"}}}
 ]}
],
"config": {
 "view": {"fill": "#EBEBEB", "stroke": null},
 "font": "Liberation Sans",
 "title": {"fontSize": 11.7, "fontWeight": "normal", "color": "#1A1A1A", "font": "Liberation Sans", "offset": 9, "frame": "group", "anchor": "middle", "baseline": "alphabetic"},
 "axis": {"domain": false, "grid": true, "gridColor": "#FFFFFF", "tickSize": 4, "tickWidth": 1.1, "labelFontSize": 11.7, "labelColor": "#4D4D4D", "labelPadding": 2, "labelFont": "Liberation Sans", "labelFlush": false, "labelOverlap": false, "titleFont": "Liberation Sans", "titleFontSize": 14.7, "titleColor": "#000000", "titleFontWeight": "normal"}
}
}
